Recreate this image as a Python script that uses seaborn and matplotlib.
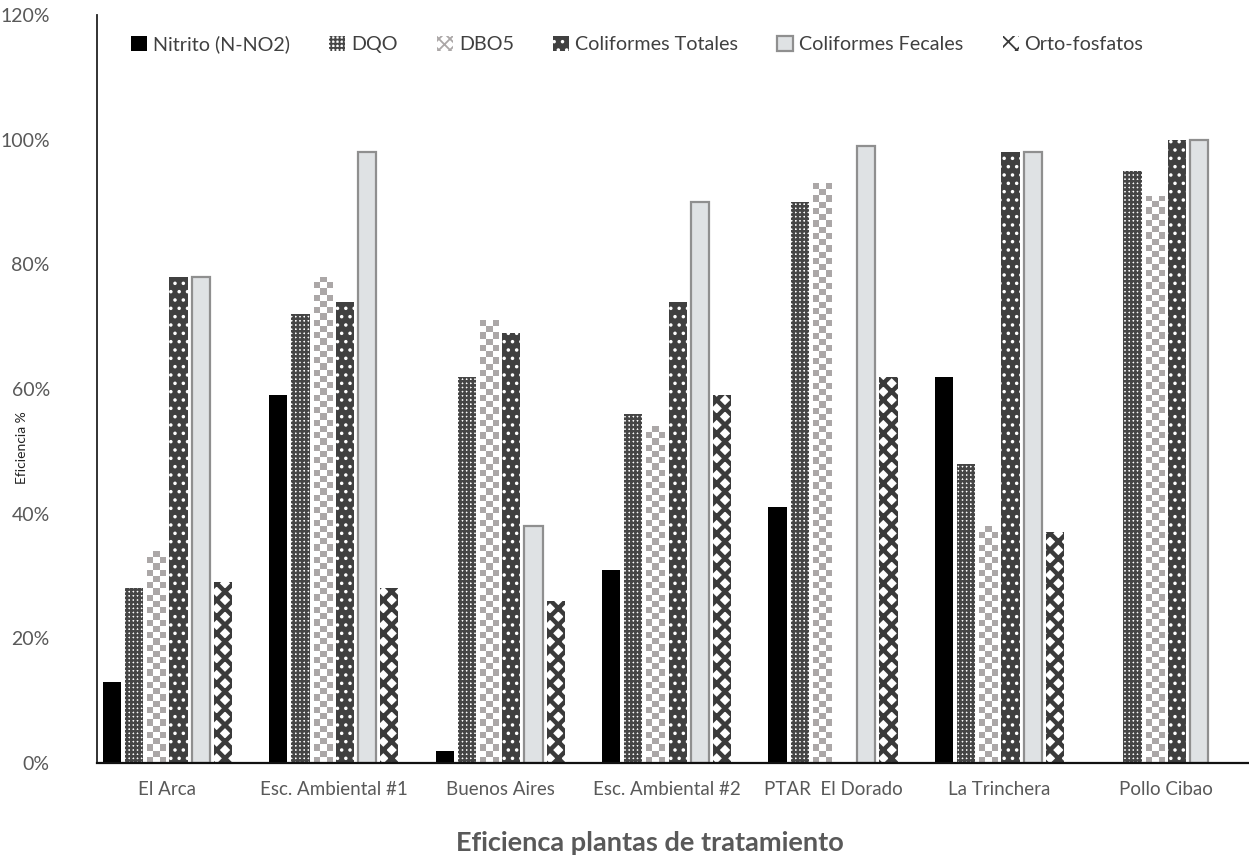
import numpy as np
import pandas as pd
import matplotlib
matplotlib.use('Agg')
from matplotlib import pyplot as plt
from matplotlib.patches import Patch
import seaborn as sns

plantas = ['El Arca', 'Esc. Ambiental #1', 'Buenos Aires', 'Esc. Ambiental #2',
           'PTAR  El Dorado', 'La Trinchera', 'Pollo Cibao']
parametros = ['Nitrito (N-NO2)', 'DQO', 'DBO5', 'Coliformes Totales',
              'Coliformes Fecales', 'Orto-fosfatos']

nitrito = [13, 59, 2, 31, 41, 62, 0]
dqo = [28, 72, 62, 56, 90, 48, 95]
dbo5 = [34, 78, 71, 54, 93, 38, 91]
coli_totales = [78, 74, 69, 74, 0, 98, 100]
coli_fecales = [78, 98, 38, 90, 99, 98, 100]
orto_fosfatos = [29, 28, 26, 59, 62, 37, 0]

series = [nitrito, dqo, dbo5, coli_totales, coli_fecales, orto_fosfatos]
rows = []
for par, vals in zip(parametros, series):
    for pl, v in zip(plantas, vals):
        rows.append({'planta': pl, 'parametro': par, 'valor': v / 100})
df = pd.DataFrame(rows)

sns.set_style('white')
plt.rcParams['font.family'] = ['Lato', 'DejaVu Sans']
plt.rcParams['hatch.linewidth'] = 1.3

# facecolor, edgecolor (color del hatch), hatch, linewidth, grosor del hatch
estilos = {
    'Nitrito (N-NO2)': ('black', 'black', None, 0, 1.0),
    'DQO': ('white', '#454545', '++++', 0, 1.8),
    'DBO5': ('white', '#aba7a7', None, 0, 1.0),
    'Coliformes Totales': ('#404040', 'white', '..', 0, 1.3),
    'Coliformes Fecales': ('#dfe2e4', '#8f8f8f', None, 1.6, 1.0),
    'Orto-fosfatos': ('white', '#3a3a3a', 'xx', 0, 3.2),
}

def aplicar(p, fc, ec, hatch, lw, hlw):
    p.set_facecolor(fc)
    p.set_edgecolor(ec)
    p.set_hatch(hatch)
    p.set_linewidth(lw)
    if hasattr(p, 'set_hatch_linewidth'):
        p.set_hatch_linewidth(hlw)

fig = plt.figure(figsize=(12.49, 8.6), dpi=100)
ax = fig.add_axes([0.0777, 0.1128, 0.9223, 0.8698])

sns.barplot(data=df, x='planta', y='valor', hue='parametro', order=plantas,
            hue_order=parametros, errorbar=None, width=0.8, gap=0.18,
            ax=ax, legend=False)

for par, cont in zip(parametros, ax.containers):
    for bar in cont.patches:
        aplicar(bar, *estilos[par])
        if bar.get_height() == 0:
            bar.set_visible(False)

# patron de tablero para DBO5
dbo_cont = ax.containers[parametros.index('DBO5')]
for bar in dbo_cont.patches:
    if bar.get_height() == 0:
        continue
    x0, w, h = bar.get_x(), bar.get_width(), bar.get_height()
    nrows = max(1, int(round(h * 100)))
    img = (np.add.outer(np.arange(nrows), np.arange(3)) % 2).astype(float)
    im = ax.imshow(img, extent=(x0, x0 + w, 0, h), origin='lower',
                   cmap=matplotlib.colors.ListedColormap(['#aba7a7', 'white']),
                   interpolation='nearest', aspect='auto', zorder=bar.get_zorder() + 0.1)
    im.set_clip_path(bar)

ax.set_xlim(-0.423, 6.5)
ax.set_ylim(0, 1.2)
ax.set_yticks(np.arange(0, 1.21, 0.2))
ax.set_yticklabels([f'{int(round(t * 100))}%' for t in np.arange(0, 1.21, 0.2)])
ax.tick_params(axis='y', length=0, pad=34, labelsize=14, labelcolor='#595959')
ax.tick_params(axis='x', length=0, pad=13, labelsize=13.5, labelcolor='#595959')
ax.set_xlabel('')
ax.set_ylabel('')
sns.despine(ax=ax)
ax.spines['left'].set_color('#222222')
ax.spines['left'].set_linewidth(1.3)
ax.spines['bottom'].set_color('#111111')
ax.spines['bottom'].set_linewidth(1.6)

handles = []
for par in parametros:
    h = Patch()
    if par == 'DBO5':
        aplicar(h, 'white', '#aba7a7', 'xxx', 0, 1.3)
    else:
        aplicar(h, *estilos[par])
    handles.append(h)
leg = ax.legend(handles, parametros, loc='center', bbox_to_anchor=(0.469, 0.961),
                ncol=6, frameon=False, fontsize=14.2, handlelength=0.8,
                handleheight=0.8, handletextpad=0.3, columnspacing=2.0)
for t in leg.get_texts():
    t.set_color('#404040')

fig.text(0.018, 0.48, 'Eficiencia %', rotation=90, va='center', ha='center',
         fontsize=10, color='#222222')
fig.text(0.52, 0.02, 'Eficienca plantas de tratamiento', ha='center', va='center',
         fontsize=19.5, fontweight='bold', color='#595959')

fig.savefig('out.png', dpi=100)
